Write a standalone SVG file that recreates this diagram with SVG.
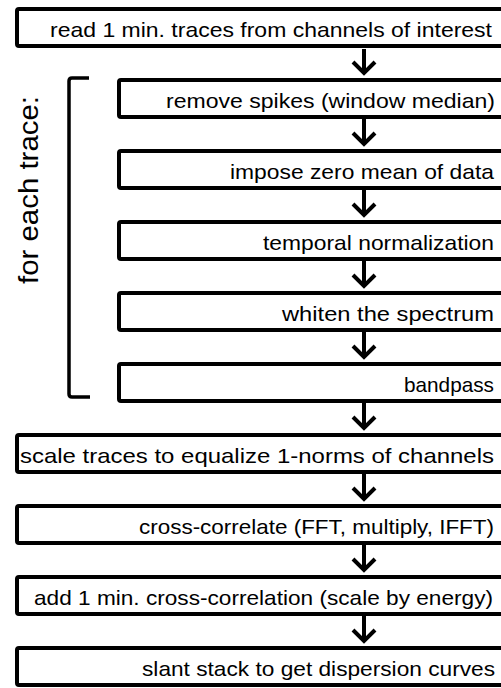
<svg xmlns="http://www.w3.org/2000/svg" width="501" height="688" viewBox="0 0 501 688">
<style>
.box{fill:#fff;stroke:#000;stroke-width:4}
.t{font-family:"Liberation Sans",Arial,sans-serif;font-size:21px;fill:#000;text-anchor:end}
.c{fill:none;stroke:#000;stroke-width:4}
</style>
<rect width="501" height="688" fill="#fff"/>
<g id="connectors">
<path class="c" d="M364 49V73M353 62L364 73L375 62"/>
<path class="c" d="M364 118V144M353 133L364 144L375 133"/>
<path class="c" d="M364 189V215M353 204L364 215L375 204"/>
<path class="c" d="M364 260V286M353 275L364 286L375 275"/>
<path class="c" d="M364 331V357M353 346L364 357L375 346"/>
<path class="c" d="M364 402V428M353 417L364 428L375 417"/>
<path class="c" d="M364 473V499M353 488L364 499L375 488"/>
<path class="c" d="M364 544V570M353 559L364 570L375 559"/>
<path class="c" d="M364 615V641M353 630L364 641L375 630"/>
</g>
<g id="bracket">
<path d="M89 78H72Q69 78 69 81V394Q69 397 72 397H90" fill="none" stroke="#000" stroke-width="3.5"/>
<text class="t" transform="translate(38,190) rotate(-90)" style="text-anchor:middle;font-size:27px" textLength="188" lengthAdjust="spacingAndGlyphs">for each trace:</text>
</g>
<g id="n1"><rect class="box" x="17" y="9" width="500" height="37" rx="2"/><text class="t" x="492" y="37" textLength="442" lengthAdjust="spacingAndGlyphs">read 1 min. traces from channels of interest</text></g>
<g id="n2"><rect class="box" x="119" y="80" width="400" height="37" rx="2"/><text class="t" x="495" y="108" textLength="329" lengthAdjust="spacingAndGlyphs">remove spikes (window median)</text></g>
<g id="n3"><rect class="box" x="119" y="151" width="400" height="37" rx="2"/><text class="t" x="494" y="179" textLength="264" lengthAdjust="spacingAndGlyphs">impose zero mean of data</text></g>
<g id="n4"><rect class="box" x="119" y="222" width="400" height="37" rx="2"/><text class="t" x="494" y="250" textLength="231" lengthAdjust="spacingAndGlyphs">temporal normalization</text></g>
<g id="n5"><rect class="box" x="119" y="293" width="400" height="37" rx="2"/><text class="t" x="494" y="321" textLength="212" lengthAdjust="spacingAndGlyphs">whiten the spectrum</text></g>
<g id="n6"><rect class="box" x="119" y="364" width="400" height="37" rx="2"/><text class="t" x="494" y="392" textLength="90" lengthAdjust="spacingAndGlyphs">bandpass</text></g>
<g id="n7"><rect class="box" x="17" y="435" width="500" height="37" rx="2"/><text class="t" x="494" y="463" textLength="474" lengthAdjust="spacingAndGlyphs">scale traces to equalize 1-norms of channels</text></g>
<g id="n8"><rect class="box" x="17" y="506" width="500" height="37" rx="2"/><text class="t" x="494" y="534" textLength="355" lengthAdjust="spacingAndGlyphs">cross-correlate (FFT, multiply, IFFT)</text></g>
<g id="n9"><rect class="box" x="17" y="577" width="500" height="37" rx="2"/><text class="t" x="493" y="605" textLength="459" lengthAdjust="spacingAndGlyphs">add 1 min. cross-correlation (scale by energy)</text></g>
<g id="n10"><rect class="box" x="17" y="648" width="500" height="37" rx="2"/><text class="t" x="495" y="676" textLength="353" lengthAdjust="spacingAndGlyphs">slant stack to get dispersion curves</text></g>
</svg>
